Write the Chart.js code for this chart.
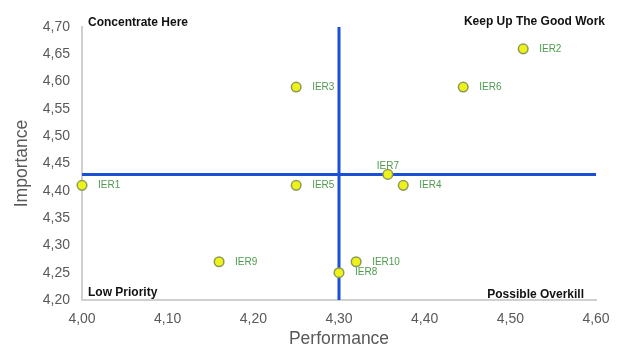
<!DOCTYPE html>
<html>
<head>
<meta charset="utf-8">
<script src="https://cdn.jsdelivr.net/npm/chart.js@4.4.1/dist/chart.umd.min.js"></script>
<style>
  html, body { margin: 0; padding: 0; background: #fff; }
  #wrap { width: 621px; height: 350px; }
</style>
</head>
<body>
<div id="wrap"><canvas id="myChart" width="621" height="350"></canvas></div>
<script>
// data
const names = ['IER1', 'IER2', 'IER3', 'IER4', 'IER5', 'IER6', 'IER7', 'IER8', 'IER9', 'IER10'];
const performance = [4.00, 4.515, 4.25, 4.375, 4.25, 4.445, 4.357, 4.30, 4.16, 4.32];
const importance = [4.41, 4.66, 4.59, 4.41, 4.41, 4.59, 4.43, 4.25, 4.27, 4.27];
const labelSide = ['right', 'right', 'right', 'right', 'right', 'right', 'above', 'right', 'right', 'right'];

const xTicks = [4.00, 4.10, 4.20, 4.30, 4.40, 4.50, 4.60];
const yTicks = [4.20, 4.25, 4.30, 4.35, 4.40, 4.45, 4.50, 4.55, 4.60, 4.65, 4.70];

const perfCut = 4.30;
const impCut = 4.43;

const quadrants = {
  topLeft: 'Concentrate Here',
  topRight: 'Keep Up The Good Work',
  bottomLeft: 'Low Priority',
  bottomRight: 'Possible Overkill'
};

const fmt = v => v.toFixed(2).replace('.', ',');

const points = names.map((n, i) => ({ x: performance[i], y: importance[i] }));

const labelPlugin = {
  id: 'labels',
  afterDatasetsDraw(chart) {
    const ctx = chart.ctx;
    const meta = chart.getDatasetMeta(0);
    ctx.save();
    ctx.font = '10px "Liberation Sans", Arial, sans-serif';
    ctx.fillStyle = '#4f9a4f';
    meta.data.forEach((el, i) => {
      if (labelSide[i] === 'above') {
        ctx.textAlign = 'center';
        ctx.textBaseline = 'bottom';
        ctx.fillText(names[i], el.x, el.y - 3);
      } else {
        ctx.textAlign = 'left';
        ctx.textBaseline = 'middle';
        ctx.fillText(names[i], el.x + 16, el.y);
      }
    });

    // quadrant captions
    const a = chart.chartArea;
    ctx.font = 'bold 12px "Liberation Sans", Arial, sans-serif';
    ctx.fillStyle = '#111';
    ctx.textBaseline = 'middle';
    ctx.textAlign = 'left';
    ctx.fillText(quadrants.topLeft, a.left + 6, a.top - 4);
    ctx.fillText(quadrants.bottomLeft, a.left + 6, a.bottom - 7);
    ctx.textAlign = 'right';
    ctx.fillText(quadrants.topRight, a.right + 9, a.top - 5);
    ctx.fillText(quadrants.bottomRight, a.right - 12, a.bottom - 5);
    ctx.restore();
  }
};

const config = {
  type: 'scatter',
  data: {
    datasets: [
      {
        label: 'IER',
        data: points,
        backgroundColor: '#eef218',
        borderColor: '#8a9a58',
        borderWidth: 1.5,
        pointRadius: 4.8,
        pointHoverRadius: 4.8,
        clip: false,
        order: 0
      },
      {
        type: 'line',
        label: 'perfCut',
        data: [{ x: perfCut, y: yTicks[0] }, { x: perfCut, y: yTicks[yTicks.length - 1] }],
        borderColor: '#1a4fd6',
        borderWidth: 3,
        pointRadius: 0,
        clip: false,
        order: 1
      },
      {
        type: 'line',
        label: 'impCut',
        data: [{ x: xTicks[0], y: impCut }, { x: xTicks[xTicks.length - 1], y: impCut }],
        borderColor: '#1a4fd6',
        borderWidth: 3,
        pointRadius: 0,
        clip: false,
        order: 1
      }
    ]
  },
  options: {
    responsive: false,
    animation: false,
    layout: { padding: { top: 27, right: 25, left: 10, bottom: 0 } },
    plugins: {
      legend: { display: false },
      tooltip: { enabled: false }
    },
    scales: {
      x: {
        type: 'linear',
        min: xTicks[0],
        max: xTicks[xTicks.length - 1],
        afterBuildTicks: s => { s.ticks = xTicks.map(v => ({ value: v })); },
        afterFit: s => { s.height = 50; },
        grid: { display: false },
        border: { display: true, color: '#d0d0d0', width: 2 },
        ticks: {
          callback: v => fmt(v),
          color: '#595959',
          padding: 3,
          maxRotation: 0,
          font: { family: '"Liberation Sans", Arial, sans-serif', size: 14 }
        },
        title: {
          display: true,
          text: 'Performance',
          color: '#595959',
          padding: { top: 0, bottom: 0 },
          font: { family: '"Liberation Sans", Arial, sans-serif', size: 17.5 }
        }
      },
      y: {
        type: 'linear',
        min: yTicks[0],
        max: yTicks[yTicks.length - 1],
        afterBuildTicks: s => { s.ticks = yTicks.map(v => ({ value: v })); },
        afterFit: s => { s.width = 72; },
        grid: { display: false },
        border: { display: true, color: '#d0d0d0', width: 2 },
        ticks: {
          callback: v => fmt(v),
          color: '#595959',
          padding: 4,
          font: { family: '"Liberation Sans", Arial, sans-serif', size: 14 }
        },
        title: {
          display: true,
          text: 'Importance',
          color: '#595959',
          padding: { top: 2, bottom: 0 },
          font: { family: '"Liberation Sans", Arial, sans-serif', size: 17.5 }
        }
      }
    }
  },
  plugins: [labelPlugin]
};

const myChart = new Chart(document.getElementById('myChart'), config);
</script>
</body>
</html>
